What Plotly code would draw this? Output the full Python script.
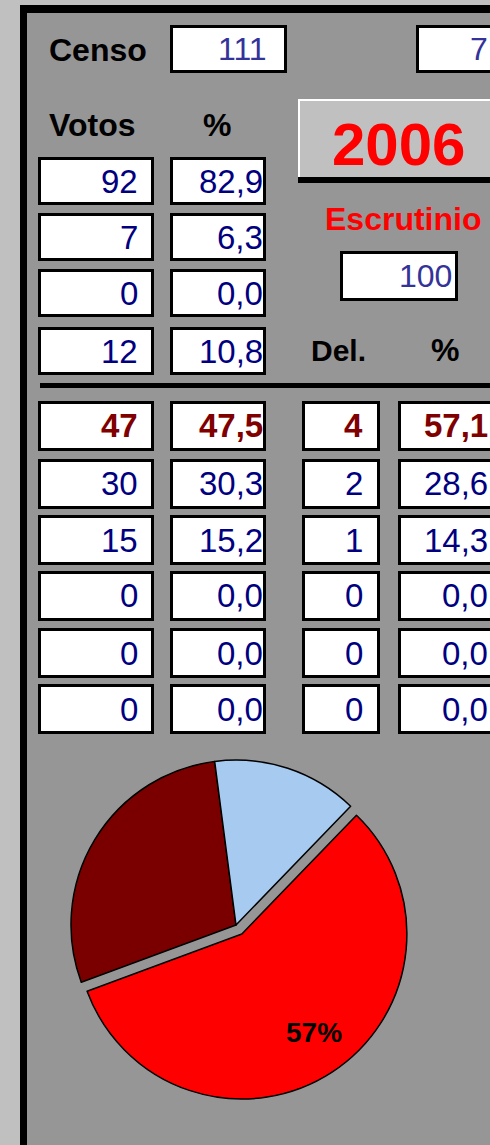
import math
import plotly.graph_objects as go

# ---------------- data ----------------
censo = 111
top_right_value = 7
year = "2006"
escrutinio = 100
vote_counts = [92, 7, 0, 12]
vote_pct = [82.9, 6.3, 0.0, 10.8]
party_votes = [47, 30, 15, 0, 0, 0]
party_pct = [47.5, 30.3, 15.2, 0.0, 0.0, 0.0]
party_delegates = [4, 2, 1, 0, 0, 0]
delegate_pct = [57.1, 28.6, 14.3, 0.0, 0.0, 0.0]
party_colors = ["#ff0000", "#7a0000", "#a6caf0", "#808080", "#808080", "#808080"]

W, H = 490, 1145
FONT = "Liberation Sans, Arial, sans-serif"


def px(x):
    return x / W


def py(y):
    return 1 - y / H


def fmt(v):
    return f"{v:.1f}".replace(".", ",")


shapes = []
annotations = []


def rect(x0, y0, x1, y1, fill, line_w=0, line_c="black"):
    shapes.append(dict(type="rect", xref="paper", yref="paper",
                       x0=px(x0), x1=px(x1), y0=py(y1), y1=py(y0),
                       fillcolor=fill, layer="below",
                       line=dict(width=line_w, color=line_c)))


def box(x0, y0, x1, y1):
    rect(x0 + 1.5, y0 + 1.5, x1 - 1.5, y1 - 1.5, "white", 3, "black")


def text(x, y, s, size, color, bold=False, anchor="right"):
    annotations.append(dict(xref="paper", yref="paper", x=px(x), y=py(y),
                            text=s, showarrow=False, xanchor=anchor,
                            yanchor="middle",
                            font=dict(family=FONT, size=size, color=color,
                                      weight="bold" if bold else "normal")))


# background frame
rect(20, 5, 495, 1150, "black")
rect(27, 13, 495, 1150, "#969696")

# header
text(47, 50, "Censo", 32, "black", True, "left")
box(170, 25, 287, 73)
text(269, 49, str(censo), 32, "#333399")
box(416, 25, 500, 73)
text(490, 49, str(top_right_value), 32, "#333399")

text(47, 125, "Votos", 32, "black", True, "left")
text(217, 125, "%", 32, "black", True, "center")

# 2006 panel
rect(298, 99, 495, 183, "black")
rect(298, 99, 495, 177, "white")
rect(300, 101, 495, 177, "#c0c0c0")
text(398, 145, year, 60, "#ff0000", True, "center")

text(403, 219, "Escrutinio", 32, "#ff0000", True, "center")
box(340, 251, 458, 301)
text(454, 276, str(escrutinio), 32, "#333399")

text(338, 350, "Del.", 30, "black", True, "center")
text(445, 350, "%", 32, "black", True, "center")

# vote rows
vote_tops = [157, 213, 269, 327]
for top, v, p in zip(vote_tops, vote_counts, vote_pct):
    box(38, top, 154, top + 48)
    box(170, top, 266, top + 48)
    text(140, top + 24, str(v), 33, "#000080")
    text(265, top + 24, fmt(p), 33, "#000080")

# separator
rect(40, 383, 495, 388, "black")

# party rows
party_tops = [401, 459, 515, 571, 628, 684]
for i, top in enumerate(party_tops):
    bold = i == 0
    col = "#800000" if bold else "#000080"
    box(38, top, 154, top + 50)
    box(170, top, 266, top + 50)
    box(302, top, 380, top + 50)
    box(398, top, 505, top + 50)
    text(140, top + 25, str(party_votes[i]), 33, col, bold)
    text(265, top + 25, fmt(party_pct[i]), 33, col, bold)
    text(365, top + 25, str(party_delegates[i]), 33, col, bold)
    text(490, top + 25, fmt(delegate_pct[i]), 33, col, bold)

# pie
pie_vals = [d for d in party_delegates if d > 0]
pie_cols = [c for d, c in zip(party_delegates, party_colors) if d > 0]
pull = 0.065
r = 165
R = r * (1 + pull)
cx, cy = 236, 925
rotation = 44

fig = go.Figure(go.Pie(
    values=pie_vals,
    sort=False,
    direction="clockwise",
    rotation=rotation,
    pull=[pull] + [0] * (len(pie_vals) - 1),
    marker=dict(colors=pie_cols, line=dict(color="black", width=1.5)),
    textinfo="none",
    hoverinfo="skip",
    showlegend=False,
    domain=dict(x=[px(cx - R), px(cx + R)], y=[py(cy + R), py(cy - R)]),
))

# percentage label of the largest slice, placed along its mid-angle
total = sum(pie_vals)
frac = pie_vals[0] / total
mid = math.radians(rotation + 360 * frac / 2 - 3)
lx = cx + (pull * r + 0.74 * r) * math.sin(mid)
ly = cy - (pull * r + 0.74 * r) * math.cos(mid)
text(lx, ly, f"{frac * 100:.0f}%", 28, "black", True, "center")

fig.update_layout(
    width=W, height=H,
    margin=dict(l=0, r=0, t=0, b=0),
    paper_bgcolor="#c0c0c0",
    plot_bgcolor="rgba(0,0,0,0)",
    shapes=shapes,
    annotations=annotations,
    showlegend=False,
)

fig.write_html("out.html",
               config={"displayModeBar": False},
               post_script="document.body.style.margin='0';"
                           "document.body.style.overflow='hidden';")
